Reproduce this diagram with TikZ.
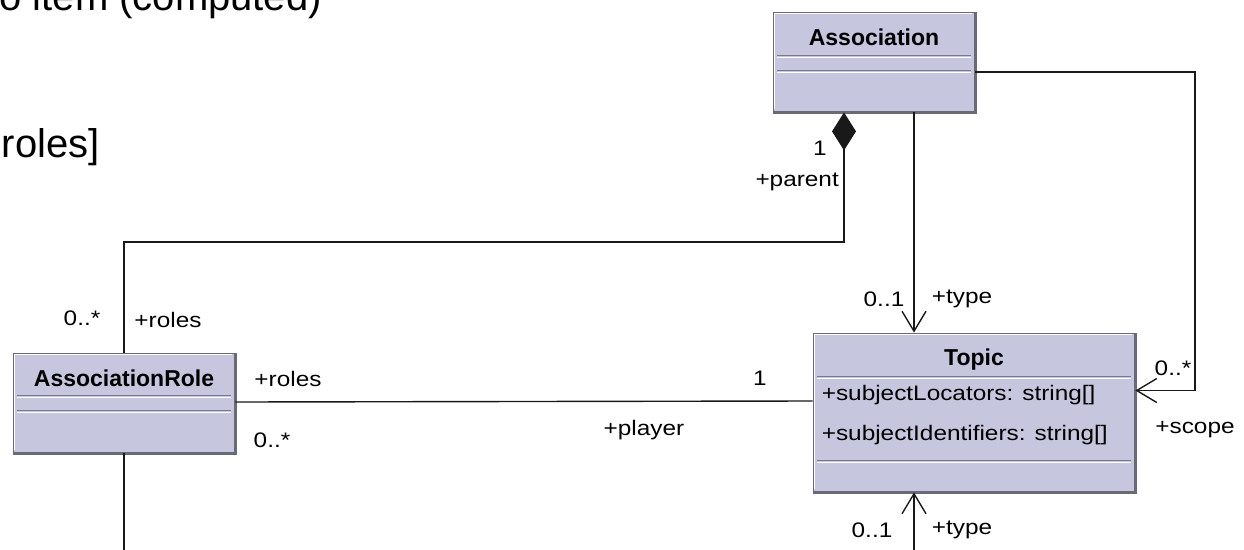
\documentclass[tikz,border=0pt]{standalone}
\usepackage{fontspec}
\setmainfont{Liberation Sans}
\newfontfamily\umlfont[FakeStretch=1.16]{Liberation Sans}
\usetikzlibrary{positioning,arrows.meta,calc}
\definecolor{classfill}{RGB}{198,198,222}
\definecolor{classedge}{RGB}{105,105,120}
\definecolor{rulecol}{RGB}{120,120,150}

% compartment rule: dark line with a white line under it
\newcommand\classrule[2]{%
  \draw[rulecol, line width=1.2pt] ($(#1.north west)+(4,#2)$) -- ($(#1.north east)+(-4,#2)$);
  \draw[white, line width=1.2pt] ($(#1.north west)+(4,#2+2)$) -- ($(#1.north east)+(-4,#2+2)$);}

\begin{document}
\begin{tikzpicture}[x=1pt, y=-1pt,
  class/.style={draw=classedge, line width=0.8pt, fill=classfill, inner sep=0pt},
  classname/.style={font=\fontsize{23}{26}\selectfont\bfseries, inner sep=0pt},
  attr/.style={font=\umlfont\fontsize{21}{24}\selectfont, inner sep=0pt, anchor=west},
  role/.style={font=\umlfont\fontsize{21}{24}\selectfont, inner sep=0pt},
  bigtext/.style={font=\fontsize{40}{44}\selectfont, inner sep=0pt, anchor=base east},
  link/.style={line width=1.4pt, black!90},
  navig/.style={link, -{Straight Barb[length=20pt, width=24pt, line width=1.4pt]}},
  compos/.style={link, {Diamond[length=38pt, width=24pt]}-},
]
  \useasboundingbox (0,0) rectangle (1244,549);
  \clip (0,0) rectangle (1244,549);

  % page text behind the diagram
  \node[bigtext] (note1) at (322,10) {o item (computed)};
  \node[bigtext] (note2) at (100,157) {roles]};

  % classes
  \node[class, minimum width=202pt, minimum height=100pt] (assoc) at (874,62) {};
  \node[class, minimum width=322pt, minimum height=159pt] (topic) at (974,412.5) {};
  \node[class, minimum width=222pt, minimum height=100pt] (arole) at (124,403) {};

  \foreach \c in {assoc, topic, arole} {
    \draw[white, line width=1.2pt] ($(\c.south west)+(2,-3)$) -- ($(\c.north west)+(2,2)$) -- ($(\c.north east)+(-3,2)$);
    \draw[classedge, line width=2.4pt] (\c.north east) -- (\c.south east) -- (\c.south west);
  }

  \node[classname] (assoc-name) at ($(assoc.north)+(0,26)$) {Association};
  \classrule{assoc}{44}
  \classrule{assoc}{59}

  \node[classname] (topic-name) at ($(topic.north)+(0,27)$) {Topic};
  \classrule{topic}{44}
  \node[attr] (topic-loc) at ($(topic.north west)+(9,62)$) {+subjectLocators: string[]};
  \node[attr] (topic-ids) at ($(topic.north west)+(9,102)$) {+subjectIdentifiers: string[]};
  \classrule{topic}{128}

  \node[classname] (arole-name) at ($(arole.north)+(0,26)$) {AssociationRole};
  \classrule{arole}{43}
  \classrule{arole}{58}

  % connectors
  \coordinate (parent-bend) at (844,242);
  \coordinate (scope-bend) at (1195,72);
  \coordinate (arole-out) at (124,570);
  \coordinate (type-in) at (914,570);

  \draw[compos] ($(assoc.south)+(-30,0)$) -- (parent-bend) -| (arole.north);
  \draw[navig] ($(assoc.south)+(40,0)$) -- ($(topic.north)+(-60,0)$);
  \draw[navig] ($(assoc.east)+(0,10)$) -- (scope-bend) |- ($(topic.east)+(0,-22)$);
  \draw[link] (arole.east) ++(0,-1) -- ($(topic.west)+(0,-11.5)$);
  \draw[link] (arole.south) -- (arole-out);
  \draw[navig] (type-in) -- ($(topic.south)+(-60,0)$);

  % end labels
  \node[role] (parent-mult) at (820,148) {1};
  \node[role, anchor=east] (parent-name) at (839,182) {+parent};
  \node[role] (type-mult) at (884,299) {0..1};
  \node[role] (type-name) at (962,299) {+type};
  \node[role] (scope-mult) at (1173,368) {0..*};
  \node[role] (scope-name) at (1195,430) {+scope};
  \node[role] (type2-mult) at (872,530) {0..1};
  \node[role] (type2-name) at (962,530) {+type};
  \node[role] (roles-mult) at (82,318) {0..*};
  \node[role] (roles-name) at (168,320) {+roles};
  \node[role] (player-roles) at (288,379) {+roles};
  \node[role] (player-rmult) at (272,440) {0..*};
  \node[role] (player-mult) at (760,378) {1};
  \node[role] (player-name) at (644,430) {+player};
\end{tikzpicture}
\end{document}
